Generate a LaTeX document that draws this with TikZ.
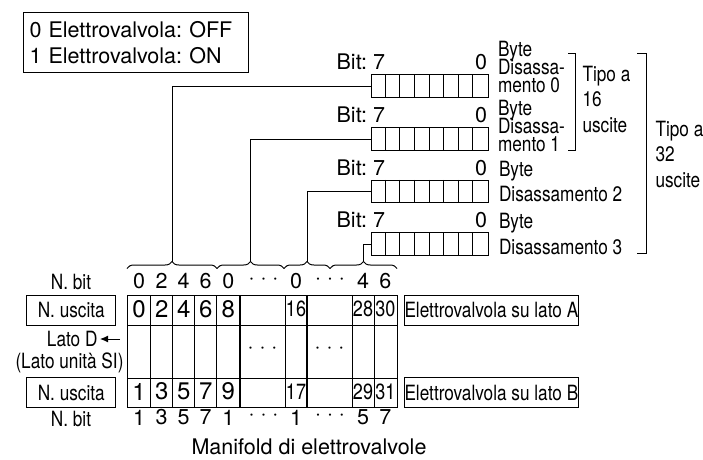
\documentclass[tikz,border=0pt]{standalone}
\usepackage{fontspec}
\setmainfont{TeX Gyre Heros}
\newfontfamily\condfont[FakeStretch=0.82]{TeX Gyre Heros}
\usetikzlibrary{arrows.meta, decorations.pathreplacing}
\frenchspacing

\begin{document}
\begin{tikzpicture}[x=1pt, y=-1pt, line width=1pt,
  txt/.style={inner sep=0pt, font=\fontsize{21.5}{26}\selectfont},
  ctxt/.style={inner sep=0pt, font=\condfont\fontsize{21}{25.5}\selectfont},
  tightlines/.style={font=\condfont\fontsize{21}{17.5}\selectfont},
  regbox/.style={draw, minimum width=117pt, minimum height=22.5pt, inner sep=0pt},
  labbox/.style={draw, ctxt, minimum height=30pt},
  cellnum/.style={inner sep=0pt, font=\fontsize{24}{24}\selectfont},
  cellcnum/.style={inner sep=0pt, font=\condfont\fontsize{22}{22}\selectfont},
  bitbrace/.style={decorate, decoration={brace, amplitude=7pt}}]

\useasboundingbox (0,0) rectangle (703,459);

% Legend
\node[draw, txt, anchor=north west, text width=213pt, inner xsep=6pt, inner ysep=4pt,
  align=left, minimum height=60pt] (legend) at (23,12) {0 Elettrovalvola: OFF\\1 Elettrovalvola: ON};

% Byte registers
\foreach \r/\y in {0/86, 1/139, 2/191.5, 3/244} {
  \node[regbox] (reg\r) at (429.5,\y) {};
  \foreach \c in {1,...,7}
    \draw ([xshift=\c*14.625pt]reg\r.north west) -- ([xshift=\c*14.625pt]reg\r.south west);
  \node[txt, anchor=base east] (bitseven\r) at ([xshift=15pt, yshift=4.5pt]reg\r.north west) {Bit: 7};
  \node[txt, anchor=base] (bitzero\r) at ([xshift=-7.3pt, yshift=4.5pt]reg\r.north east) {0};
}
\node[ctxt, tightlines, anchor=north west, align=left] (byte0) at ([xshift=9pt, yshift=45pt]reg0.east) {Byte\\[-3pt]Disassa-\\mento 0};
\node[ctxt, tightlines, anchor=north west, align=left] (byte1) at ([xshift=9pt, yshift=39pt]reg1.east) {Byte\\[-3pt]Disassa-\\mento 1};
\node[ctxt, anchor=north west, align=left] (byte2) at ([xshift=10pt, yshift=31pt]reg2.east) {Byte\\Disassamento 2};
\node[ctxt, anchor=north west, align=left] (byte3) at ([xshift=10pt, yshift=31pt]reg3.east) {Byte\\Disassamento 3};

% Output type brackets
\draw (568,53) -- (575,53) -- (575,150) -- (568,150);
\node[ctxt, anchor=north west, align=left] (tipo16) at (582,65.5) {Tipo a\\16\\uscite};
\draw (637,53) -- (646,53) -- (646,253) -- (637,253);
\node[ctxt, anchor=north west, align=left] (tipo32) at (655,120.5) {Tipo a\\32\\uscite};

% Bit braces and connectors
\foreach \a/\b/\n in {127/217/0, 217/284/1, 284/330/2, 330/397/3} {
  \draw[bitbrace] (\a,268.5) -- (\b,268.5);
  \coordinate (tip\n) at ({(\a+\b)/2},261.5);
}
\foreach \n in {0,...,3}
  \draw (tip\n) |- (reg\n.west);

% Manifold table
\draw (127,295) rectangle (397,407);
\draw (127,325) -- (397,325) (127,378) -- (397,378);
\foreach \x in {150.7,172.7,194.7,216.7,285,352,374}
  \draw (\x,295) -- (\x,407);
\foreach \x in {240,307}
  \draw[line width=1.6pt] (\x,295) -- (\x,407);

% Output numbers
\foreach \x/\a/\b in {139/0/1, 161.7/2/3, 183.7/4/5, 205.7/6/7, 228.3/8/9} {
  \node[cellnum] (out\a) at (\x,309) {\a};
  \node[cellnum] (out\b) at (\x,391.5) {\b};
}
\foreach \x/\a/\b in {296/16/17, 363/28/29, 385.3/30/31} {
  \node[cellcnum] (out\a) at (\x,309) {\a};
  \node[cellcnum] (out\b) at (\x,391.5) {\b};
}
\node[txt] (dotsmidA) at (262.5,350) {· · ·};
\node[txt] (dotsmidB) at (329.5,350) {· · ·};

% Bit numbers
\foreach \x/\a/\b [count=\i] in {139/0/1, 161.7/2/3, 183.7/4/5, 205.7/6/7, 228.3/0/1, 296/0/1, 363/4/5, 385.3/6/7} {
  \node[txt] (bittop\i) at (\x,281) {\a};
  \node[txt] (bitbot\i) at (\x,417.5) {\b};
}
\node[txt] (dotstopA) at (263.5,281) {· · ·};
\node[txt] (dotstopB) at (330,281) {· · ·};
\node[txt] (dotsbotA) at (263.5,417.5) {· · ·};
\node[txt] (dotsbotB) at (330,417.5) {· · ·};

% Left labels
\node[ctxt] (nbittop) at (71,282) {N. bit};
\node[labbox, minimum width=89pt] (uscA) at (71.3,310) {N. uscita};
\node[ctxt, anchor=east, inner xsep=2pt] (latoD) at (100,339) {Lato D};
\coordinate (latoDtail) at (120,339);
\draw[-{Latex[length=8pt, width=7pt]}] (latoDtail) -- (latoD);
\node[ctxt, anchor=east] (latoSI) at (124,363) {(Lato unità SI)};
\node[labbox, minimum width=89pt] (uscB) at (71.3,392.5) {N. uscita};
\node[ctxt] (nbitbot) at (71,419) {N. bit};

% Right labels
\node[labbox, minimum width=173pt, anchor=west] (latoA) at (404,310) {Elettrovalvola su lato A};
\node[labbox, minimum width=173pt, anchor=west] (latoB) at (404,392.5) {Elettrovalvola su lato B};

\node[txt] (manifold) at (309,446.5) {Manifold di elettrovalvole};
\end{tikzpicture}
\end{document}
